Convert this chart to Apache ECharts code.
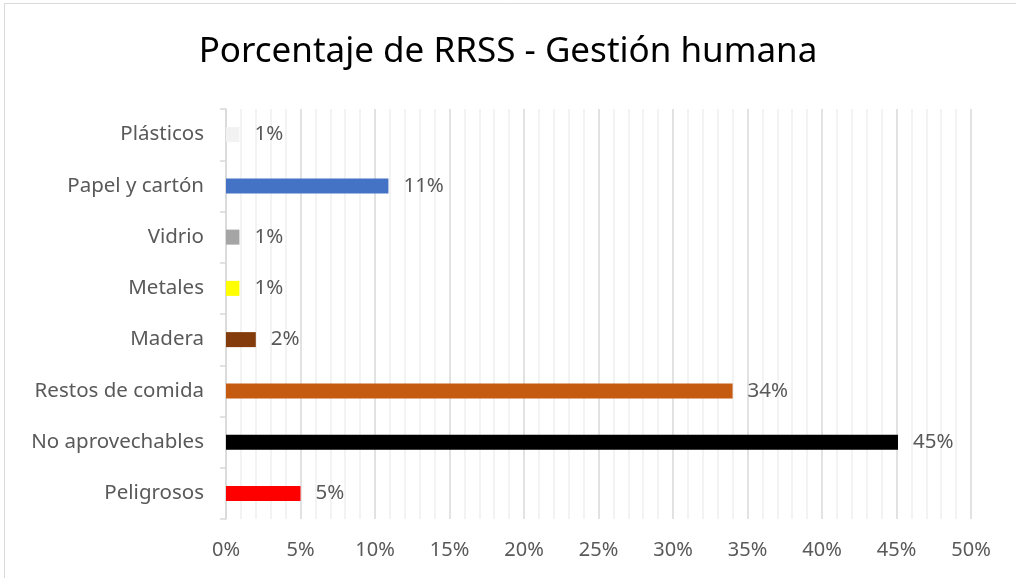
<!DOCTYPE html>
<html>
<head>
<meta charset="utf-8">
<script src="https://cdn.jsdelivr.net/npm/echarts@6/dist/echarts.min.js"></script>
<style>
  html, body { margin: 0; padding: 0; background: #fff; }
  #chart { width: 1016px; height: 578px; }
</style>
</head>
<body>
<div id="chart"></div>
<script>
// categorias (de arriba hacia abajo)
var categorias = ['Plásticos', 'Papel y cartón', 'Vidrio', 'Metales', 'Madera', 'Restos de comida', 'No aprovechables', 'Peligrosos'];
// porcentaje de cada residuo
var porcentajes = [0.9, 10.9, 0.9, 0.9, 2, 34, 45.1, 5];
var colores = ['#f2f2f2', '#4472c4', '#a5a5a5', '#ffff00', '#843c0c', '#c55a11', '#000000', '#ff0000'];
var ticksX = [0, 5, 10, 15, 20, 25, 30, 35, 40, 45, 50];

var fuente = 'Noto Sans';
var myChart = echarts.init(document.getElementById('chart'));
myChart.setOption({
  animation: false,
  title: {
    text: 'Porcentaje de RRSS - Gestión humana',
    left: 'center',
    top: 30,
    textStyle: { color: '#000', fontSize: 35, fontWeight: 'normal', fontFamily: fuente }
  },
  graphic: [{
    type: 'rect',
    shape: { x: 4.5, y: 3.5, width: 1030, height: 600 },
    style: { fill: 'none', stroke: '#d9d9d9', lineWidth: 1 },
    silent: true
  }],
  grid: { left: 226, right: 45, top: 109, bottom: 59 },
  xAxis: {
    type: 'value',
    min: ticksX[0],
    max: ticksX[ticksX.length - 1],
    interval: 5,
    axisLine: { show: false },
    axisTick: { show: false },
    axisLabel: {
      color: '#595959', fontSize: 20, fontFamily: fuente, margin: 21,
      formatter: function (v) { return v + '%'; }
    },
    splitLine: { show: true, lineStyle: { color: '#d9d9d9', width: 1.5 } },
    minorTick: { show: false, splitNumber: 5 },
    minorSplitLine: { show: true, lineStyle: { color: '#efefef', width: 1.5 } }
  },
  yAxis: {
    type: 'category',
    data: categorias,
    inverse: true,
    axisLine: { show: true, lineStyle: { color: '#d9d9d9', width: 1.5 } },
    axisTick: { show: true, length: 6, lineStyle: { color: '#d9d9d9', width: 1.5 } },
    axisLabel: { color: '#595959', fontSize: 20.5, fontFamily: fuente, margin: 22 }
  },
  series: [{
    type: 'bar',
    barWidth: 15,
    data: porcentajes.map(function (v, i) {
      return { value: v, itemStyle: { color: colores[i] } };
    }),
    label: {
      show: true,
      position: 'right',
      distance: 15,
      color: '#595959',
      fontSize: 20.5,
      fontFamily: fuente,
      formatter: function (p) { return Math.round(p.value) + '%'; }
    }
  }]
});
</script>
</body>
</html>
